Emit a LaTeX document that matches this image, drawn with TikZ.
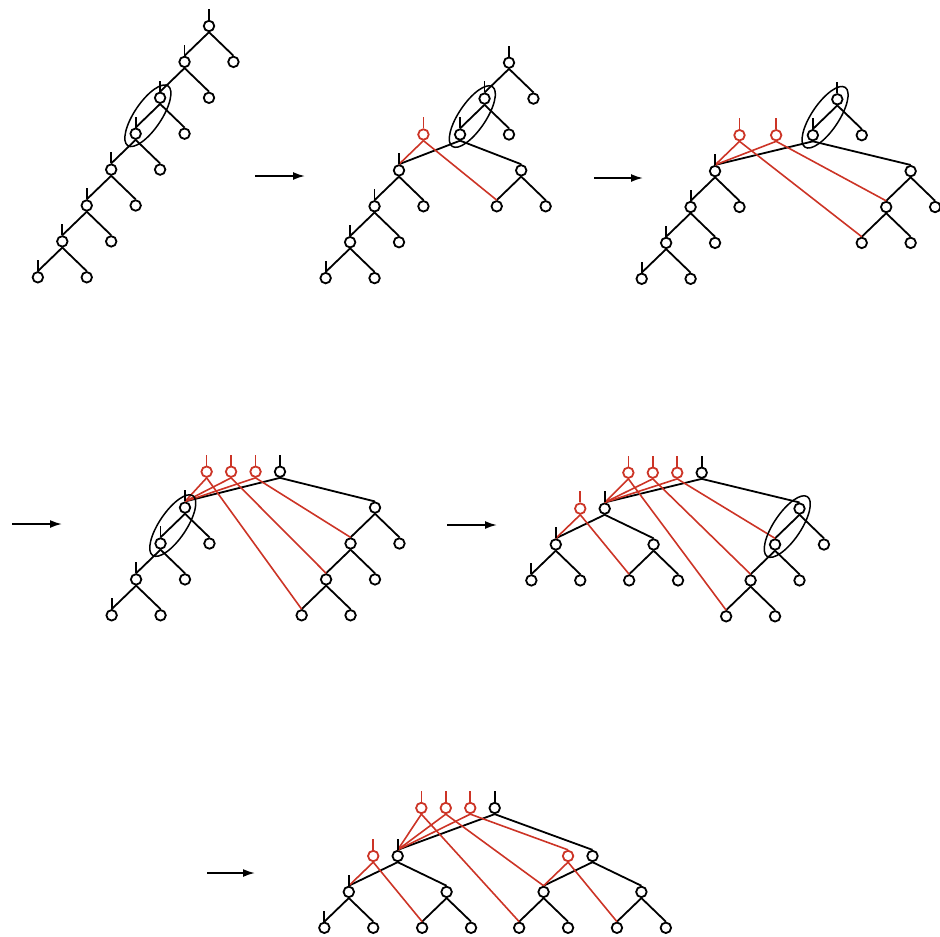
\documentclass[tikz,border=0pt]{standalone}
\usepackage{xcolor}
\usepackage{tikz}
\usetikzlibrary{positioning, arrows.meta}

\definecolor{hotred}{RGB}{204,52,38}

\tikzset{
  vert/.style={circle, draw, line width=1.8pt, minimum size=10.5pt, inner sep=0pt},
  newvert/.style={vert, draw=hotred},
  wire/.style={line width=1.8pt},
  redwire/.style={line width=1.6pt, hotred},
  pairring/.style={line width=1.5pt},
  stage arrow/.style={line width=1.8pt, -{Latex[length=12pt,width=8pt]}},
}

\begin{document}
\begin{tikzpicture}[x=1pt, y=1pt, on grid, node distance=35.9pt and 24.45pt]
  \useasboundingbox (0,0) rectangle (940,-937);

  % first tree: a plain left spine
  \node[vert] (a1) at (209,-26) {};
  \node[vert, below left=of a1]  (a2) {};
  \node[vert, below right=of a1] (a1r) {};
  \node[vert, below left=of a2]  (a3) {};
  \node[vert, below right=of a2] (a2r) {};
  \node[vert, below left=of a3]  (a4) {};
  \node[vert, below right=of a3] (a3r) {};
  \node[vert, below left=of a4]  (a5) {};
  \node[vert, below right=of a4] (a4r) {};
  \node[vert, below left=of a5]  (a6) {};
  \node[vert, below right=of a5] (a5r) {};
  \node[vert, below left=of a6]  (a7) {};
  \node[vert, below right=of a6] (a6r) {};
  \node[vert, below left=of a7]  (a8) {};
  \node[vert, below right=of a7] (a7r) {};

  \draw[wire]
      (a1.south) edge (a2.north) edge (a1r.north)
      (a2.south) edge (a3.north) edge (a2r.north)
      (a3.south) edge (a4.north) edge (a3r.north)
      (a4.south) edge (a5.north) edge (a4r.north)
      (a5.south) edge (a6.north) edge (a5r.north)
      (a6.south) edge (a7.north) edge (a6r.north)
      (a7.south) edge (a8.north) edge (a7r.north)
      ;
  \draw[wire]
      (a1.north) -- ++(0,11) (a2.north) -- ++(0,11) (a3.north) -- ++(0,11)
      (a4.north) -- ++(0,11) (a5.north) -- ++(0,11) (a6.north) -- ++(0,11)
      (a7.north) -- ++(0,11) (a8.north) -- ++(0,11);
  \path (a3) -- (a4) coordinate[midway] (a34);
  \draw[pairring, rotate around={56:(a34)}] (a34) ellipse (36pt and 13.5pt);

  % second tree
  \node[vert] (b1) at (509,-62.7) {};
  \node[vert, below left=of b1]  (b2) {};
  \node[vert, below right=of b1] (b1r) {};
  \node[vert, below left=of b2]  (b3) {};
  \node[vert, below right=of b2] (b2r) {};
  \node[vert, below left=35.9pt and 61.1pt of b3]  (b4) {};
  \node[vert, below right=35.9pt and 61.1pt of b3] (b5) {};
  \node[newvert, above right=of b4] (bx) {};
  \node[vert, below left=of b4]  (b6) {};
  \node[vert, below right=of b4] (b4r) {};
  \node[vert, below left=of b6]  (b7) {};
  \node[vert, below right=of b6] (b6r) {};
  \node[vert, below left=of b7]  (b8) {};
  \node[vert, below right=of b7] (b7r) {};
  \node[vert, below left=of b5]  (b5l) {};
  \node[vert, below right=of b5] (b5r) {};

  \draw[wire]
      (b1.south) edge (b2.north) edge (b1r.north)
      (b2.south) edge (b3.north) edge (b2r.north)
      (b3.south) edge (b4.north) edge (b5.north)
      (b4.south) edge (b6.north) edge (b4r.north)
      (b6.south) edge (b7.north) edge (b6r.north)
      (b7.south) edge (b8.north) edge (b7r.north)
      (b5.south) edge (b5l.north) edge (b5r.north)
      ;
  \draw[redwire] (bx.south) edge (b4.north) edge (b5l.north);
  \draw[wire]
      (b1.north) -- ++(0,11) (b2.north) -- ++(0,11) (b3.north) -- ++(0,11)
      (b4.north) -- ++(0,11) (b6.north) -- ++(0,11) (b7.north) -- ++(0,11)
      (b8.north) -- ++(0,11);
  \draw[redwire] (bx.north) -- ++(0,11);
  \path (b2) -- (b3) coordinate[midway] (b23);
  \draw[pairring, rotate around={56:(b23)}] (b23) ellipse (36pt and 13.5pt);

  % third tree
  \node[vert] (c1) at (837.3,-99.3) {};
  \node[vert, below left=of c1]  (c2) {};
  \node[vert, below right=of c1] (c1r) {};
  \node[vert, below left=35.9pt and 97.8pt of c2]  (c3) {};
  \node[vert, below right=35.9pt and 97.8pt of c2] (c4) {};
  \node[newvert, above right=of c3] (cx1) {};
  \node[newvert, above right=35.9pt and 61.1pt of c3] (cx2) {};
  \node[vert, below left=of c3]  (c5) {};
  \node[vert, below right=of c3] (c3r) {};
  \node[vert, below left=of c5]  (c6) {};
  \node[vert, below right=of c5] (c5r) {};
  \node[vert, below left=of c6]  (c7) {};
  \node[vert, below right=of c6] (c6r) {};
  \node[vert, below left=of c4]  (c4l) {};
  \node[vert, below right=of c4] (c4r) {};
  \node[vert, below left=of c4l]  (c4ll) {};
  \node[vert, below right=of c4l] (c4lr) {};

  \draw[wire]
      (c1.south) edge (c2.north) edge (c1r.north)
      (c2.south) edge (c3.north) edge (c4.north)
      (c3.south) edge (c5.north) edge (c3r.north)
      (c5.south) edge (c6.north) edge (c5r.north)
      (c6.south) edge (c7.north) edge (c6r.north)
      (c4.south) edge (c4l.north) edge (c4r.north)
      (c4l.south) edge (c4ll.north) edge (c4lr.north)
      ;
  \draw[redwire]
      (cx1.south) edge (c3.north) edge (c4ll.north)
      (cx2.south) edge (c3.north) edge (c4l.north);
  \draw[wire]
      (c1.north) -- ++(0,11) (c2.north) -- ++(0,11) (c3.north) -- ++(0,11)
      (c5.north) -- ++(0,11) (c6.north) -- ++(0,11) (c7.north) -- ++(0,11);
  \draw[redwire] (cx1.north) -- ++(0,11) (cx2.north) -- ++(0,11);
  \path (c1) -- (c2) coordinate[midway] (c12);
  \draw[pairring, rotate around={56:(c12)}] (c12) ellipse (36pt and 13.5pt);

  % fourth tree
  \node[vert] (d1) at (280,-471.7) {};
  \node[newvert, left=24.45pt of d1]  (dx3) {};
  \node[newvert, left=24.45pt of dx3] (dx2) {};
  \node[newvert, left=24.45pt of dx2] (dx1) {};
  \node[vert, below left=35.9pt and 95pt of d1]  (d2) {};
  \node[vert, below right=35.9pt and 95pt of d1] (d3) {};
  \node[vert, below left=of d2]  (d4) {};
  \node[vert, below right=of d2] (d2r) {};
  \node[vert, below left=of d4]  (d5) {};
  \node[vert, below right=of d4] (d4r) {};
  \node[vert, below left=of d5]  (d6) {};
  \node[vert, below right=of d5] (d5r) {};
  \node[vert, below left=of d3]  (d3l) {};
  \node[vert, below right=of d3] (d3r) {};
  \node[vert, below left=of d3l]  (d3ll) {};
  \node[vert, below right=of d3l] (d3lr) {};
  \node[vert, below left=of d3ll]  (d3lll) {};
  \node[vert, below right=of d3ll] (d3llr) {};

  \draw[wire]
      (d1.south) edge (d2.north) edge (d3.north)
      (d2.south) edge (d4.north) edge (d2r.north)
      (d4.south) edge (d5.north) edge (d4r.north)
      (d5.south) edge (d6.north) edge (d5r.north)
      (d3.south) edge (d3l.north) edge (d3r.north)
      (d3l.south) edge (d3ll.north) edge (d3lr.north)
      (d3ll.south) edge (d3lll.north) edge (d3llr.north)
      ;
  \draw[redwire]
      (dx1.south) edge (d2.north) edge (d3lll.north)
      (dx2.south) edge (d2.north) edge (d3ll.north)
      (dx3.south) edge (d2.north) edge (d3l.north);
  \draw[wire]
      (d1.north) -- ++(0,11) (d2.north) -- ++(0,11) (d4.north) -- ++(0,11)
      (d5.north) -- ++(0,11) (d6.north) -- ++(0,11);
  \draw[redwire] (dx1.north) -- ++(0,11) (dx2.north) -- ++(0,11) (dx3.north) -- ++(0,11);
  \path (d2) -- (d4) coordinate[midway] (d24);
  \draw[pairring, rotate around={56:(d24)}] (d24) ellipse (36pt and 13.5pt);

  % fifth tree
  \node[vert] (e1) at (701.7,-472.7) {};
  \node[newvert, left=24.45pt of e1]  (ex3) {};
  \node[newvert, left=24.45pt of ex3] (ex2) {};
  \node[newvert, left=24.45pt of ex2] (ex1) {};
  \node[vert, below left=35.9pt and 97pt of e1]    (e2) {};
  \node[vert, below right=35.9pt and 97.8pt of e1] (e3) {};
  \node[newvert, left=24.45pt of e2] (ex4) {};
  \node[vert, below left=35.9pt and 48.9pt of e2]  (e4) {};
  \node[vert, below right=35.9pt and 48.9pt of e2] (e5) {};
  \node[vert, below left=of e4]  (e6) {};
  \node[vert, below right=of e4] (e4r) {};
  \node[vert, below left=of e5]  (e5l) {};
  \node[vert, below right=of e5] (e5r) {};
  \node[vert, below left=of e3]  (e7) {};
  \node[vert, below right=of e3] (e3r) {};
  \node[vert, below left=of e7]  (e8) {};
  \node[vert, below right=of e7] (e7r) {};
  \node[vert, below left=of e8]  (e9) {};
  \node[vert, below right=of e8] (e8r) {};

  \draw[wire]
      (e1.south) edge (e2.north) edge (e3.north)
      (e2.south) edge (e4.north) edge (e5.north)
      (e4.south) edge (e6.north) edge (e4r.north)
      (e5.south) edge (e5l.north) edge (e5r.north)
      (e3.south) edge (e7.north) edge (e3r.north)
      (e7.south) edge (e8.north) edge (e7r.north)
      (e8.south) edge (e9.north) edge (e8r.north)
      ;
  \draw[redwire]
      (ex1.south) edge (e2.north) edge (e9.north)
      (ex2.south) edge (e2.north) edge (e8.north)
      (ex3.south) edge (e2.north) edge (e7.north)
      (ex4.south) edge (e4.north) edge (e5l.north);
  \draw[wire]
      (e1.north) -- ++(0,11) (e2.north) -- ++(0,11) (e4.north) -- ++(0,11)
      (e6.north) -- ++(0,11);
  \draw[redwire]
      (ex1.north) -- ++(0,11) (ex2.north) -- ++(0,11) (ex3.north) -- ++(0,11)
      (ex4.north) -- ++(0,11);
  \path (e3) -- (e7) coordinate[midway] (e37);
  \draw[pairring, rotate around={56:(e37)}] (e37) ellipse (36pt and 13.5pt);

  % last tree, balanced
  \node[vert] (f1) at (494.7,-808) {};
  \node[newvert, left=24.45pt of f1]  (fx3) {};
  \node[newvert, left=24.45pt of fx3] (fx2) {};
  \node[newvert, left=24.45pt of fx2] (fx1) {};
  \node[vert, below left=48pt and 97pt of f1]    (f2) {};
  \node[vert, below right=48pt and 97.8pt of f1] (f3) {};
  \node[newvert, left=24.45pt of f2] (fx4) {};
  \node[newvert, left=24.45pt of f3] (fx5) {};
  \node[vert, below left=35.9pt and 48.9pt of f2]  (f4) {};
  \node[vert, below right=35.9pt and 48.9pt of f2] (f5) {};
  \node[vert, below left=35.9pt and 48.9pt of f3]  (f7) {};
  \node[vert, below right=35.9pt and 48.9pt of f3] (f8) {};
  \node[vert, below left=of f4]  (f6) {};
  \node[vert, below right=of f4] (f4r) {};
  \node[vert, below left=of f5]  (f5l) {};
  \node[vert, below right=of f5] (f5r) {};
  \node[vert, below left=of f7]  (f7l) {};
  \node[vert, below right=of f7] (f7r) {};
  \node[vert, below left=of f8]  (f8l) {};
  \node[vert, below right=of f8] (f8r) {};

  \draw[wire]
      (f1.south) edge (f2.north) edge (f3.north)
      (f2.south) edge (f4.north) edge (f5.north)
      (f3.south) edge (f7.north) edge (f8.north)
      (f4.south) edge (f6.north) edge (f4r.north)
      (f5.south) edge (f5l.north) edge (f5r.north)
      (f7.south) edge (f7l.north) edge (f7r.north)
      (f8.south) edge (f8l.north) edge (f8r.north)
      ;
  \draw[redwire]
      (fx1.south) edge (f2.north) edge (f7l.north)
      (fx2.south) edge (f2.north) edge (f7.north)
      (fx3.south) edge (f2.north) edge (fx5.north)
      (fx4.south) edge (f4.north) edge (f5l.north)
      (fx5.south) edge (f7.north) edge (f8l.north);
  \draw[wire]
      (f1.north) -- ++(0,11) (f2.north) -- ++(0,11) (f4.north) -- ++(0,11)
      (f6.north) -- ++(0,11);
  \draw[redwire]
      (fx1.north) -- ++(0,11) (fx2.north) -- ++(0,11) (fx3.north) -- ++(0,11)
      (fx4.north) -- ++(0,11);

  % arrows between the stages
  \coordinate (s1) at (255,-176); \coordinate (t1) at (305,-176);
  \coordinate (s2) at (594,-178); \coordinate (t2) at (643,-178);
  \coordinate (s3) at (12,-524);  \coordinate (t3) at (62,-524);
  \coordinate (s4) at (447,-525); \coordinate (t4) at (497,-525);
  \coordinate (s5) at (207,-873); \coordinate (t5) at (255,-873);
  \draw[stage arrow] (s1) -- (t1);
  \draw[stage arrow] (s2) -- (t2);
  \draw[stage arrow] (s3) -- (t3);
  \draw[stage arrow] (s4) -- (t4);
  \draw[stage arrow] (s5) -- (t5);
\end{tikzpicture}
\end{document}
